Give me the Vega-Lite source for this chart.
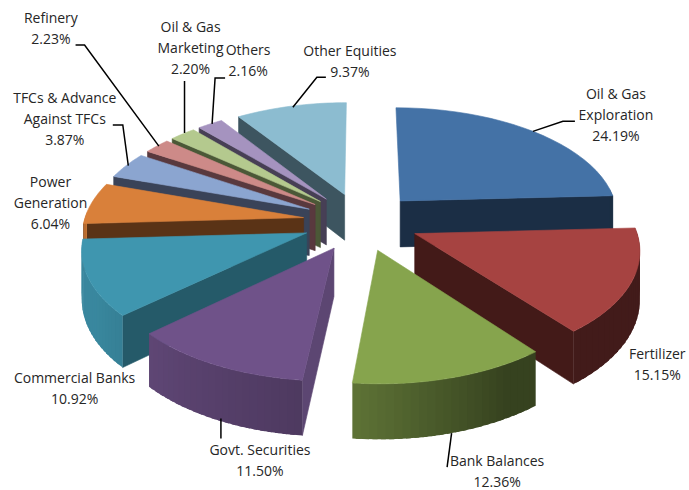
{
  "$schema": "https://vega.github.io/schema/vega-lite/v6.json",
  "width": 689,
  "height": 490,
  "padding": 0,
  "autosize": {"type": "none"},
  "background": "white",
  "config": {"view": {"stroke": null}},
  "data": {
    "values": [
      {"seq": 11, "slice": "Other Equities", "label": "Other Equities", "value": 9.37},
      {"seq": 10, "slice": "Others", "label": "Others", "value": 2.16},
      {"seq": 9, "slice": "Oil & Gas Marketing", "label": "Oil & Gas\nMarketing", "value": 2.20},
      {"seq": 8, "slice": "Refinery", "label": "Refinery", "value": 2.23},
      {"seq": 7, "slice": "TFCs & Advance Against TFCs", "label": "TFCs & Advance\nAgainst TFCs", "value": 3.87},
      {"seq": 6, "slice": "Power Generation", "label": "Power\nGeneration", "value": 6.04},
      {"seq": 1, "slice": "Oil & Gas Exploration", "label": "Oil & Gas\nExploration", "value": 24.19},
      {"seq": 2, "slice": "Fertilizer", "label": "Fertilizer", "value": 15.15},
      {"seq": 5, "slice": "Commercial Banks", "label": "Commercial Banks", "value": 10.92},
      {"seq": 3, "slice": "Bank Balances", "label": "Bank Balances", "value": 12.36},
      {"seq": 4, "slice": "Govt. Securities", "label": "Govt. Securities", "value": 11.50}
    ]
  },
  "transform": [
    {"joinaggregate": [{"op": "sum", "field": "value", "as": "total"}]},
    {"window": [{"op": "sum", "field": "value", "as": "cum"}], "sort": [{"field": "seq", "order": "ascending"}], "frame": [null, 0]},
    {"calculate": "2 * PI * (datum.cum - datum.value) / datum.total", "as": "a0"},
    {"calculate": "2 * PI * datum.cum / datum.total", "as": "a1"},
    {"calculate": "(datum.a0 + datum.a1) / 2", "as": "mid"},
    {"calculate": "0.265 * sin(datum.mid)", "as": "ex"},
    {"calculate": "-0.265 * cos(datum.mid)", "as": "ey"},
    {"calculate": "{'Oil & Gas Exploration':'#4472a6','Fertilizer':'#a64341','Bank Balances':'#86a44d','Govt. Securities':'#6f5289','Commercial Banks':'#3f96af','Power Generation':'#d9803a','TFCs & Advance Against TFCs':'#8ba5d0','Refinery':'#cd8a88','Oil & Gas Marketing':'#b4c98e','Others':'#a593bf','Other Equities':'#8cbcd0'}[datum.slice]", "as": "topColor"},
    {"calculate": "{'Oil & Gas Exploration':'#1b2e45','Fertilizer':'#431a18','Bank Balances':'#384419','Govt. Securities':'#5c4672','Commercial Banks':'#255a69','Power Generation':'#5a3316','TFCs & Advance Against TFCs':'#3a4358','Refinery':'#59393e','Oil & Gas Marketing':'#4b5837','Others':'#473f55','Other Equities':'#3d5560'}[datum.slice]", "as": "faceColor"}
  ],
  "layer": [
    {
      "description": "Cut faces of each exploded wedge, only those turned toward the viewer",
      "transform": [
        {"calculate": "[0, 1]", "as": "face"},
        {"flatten": ["face"]},
        {"filter": "datum.face == 0 ? sin(datum.a0) < -0.001 : sin(datum.a1) > 0.001"},
        {"calculate": "[0, 1, 2, 3]", "as": "corner"},
        {"flatten": ["corner"]},
        {"calculate": "datum.face == 0 ? datum.a0 : datum.a1", "as": "ang"},
        {"calculate": "(datum.corner == 1 || datum.corner == 2) ? 1 : 0", "as": "r"},
        {"calculate": "datum.corner >= 2 ? 1 : 0", "as": "h"},
        {"calculate": "datum.ex + datum.r * sin(datum.ang)", "as": "u"},
        {"calculate": "datum.ey - datum.r * cos(datum.ang)", "as": "v"},
        {"calculate": "1 / (1 - 0.123 * datum.v)", "as": "s"},
        {"calculate": "361 + 219.5 * datum.u * datum.s", "as": "px"},
        {"calculate": "221.5 + 109.4 * datum.v * datum.s + 47 * datum.h * datum.s", "as": "py"},
        {"calculate": "datum.slice + '|' + datum.face", "as": "key"}
      ],
      "mark": {"type": "line", "filled": true, "strokeWidth": 0.6, "interpolate": "linear-closed"},
      "encoding": {
        "x": {"field": "px", "type": "quantitative", "scale": {"domain": [0, 689], "nice": false, "zero": false}, "axis": null},
        "y": {"field": "py", "type": "quantitative", "scale": {"domain": [0, 490], "nice": false, "zero": false, "reverse": true}, "axis": null},
        "color": {"field": "faceColor", "type": "nominal", "scale": null, "legend": null},
        "stroke": {"field": "faceColor", "type": "nominal", "scale": null, "legend": null},
        "detail": {"field": "key"},
        "order": {"field": "corner", "type": "quantitative"}
      }
    },
    {
      "description": "Outer rim wall on the near half of the pie, shaded strip by strip; strips overlap to hide seams",
      "transform": [
        {"calculate": "[0,1,2,3,4,5,6,7,8,9,10,11,12,13,14,15,16,17,18,19,20,21,22,23]", "as": "seg"},
        {"flatten": ["seg"]},
        {"calculate": "(datum.a0 + (datum.seg + 0.5) / 24 * (datum.a1 - datum.a0)) * 180 / PI", "as": "deg"},
        {"filter": "datum.deg > 85 && datum.deg < 272"},
        {"calculate": "[0, 1, 2, 3]", "as": "corner"},
        {"flatten": ["corner"]},
        {"calculate": "datum.a0 + ((datum.corner == 1 || datum.corner == 2) ? min(datum.seg + 1.6, 24) : datum.seg) / 24 * (datum.a1 - datum.a0)", "as": "ang"},
        {"calculate": "datum.corner >= 2 ? 1 : 0", "as": "h"},
        {"calculate": "datum.ex + sin(datum.ang)", "as": "u"},
        {"calculate": "datum.ey - cos(datum.ang)", "as": "v"},
        {"calculate": "1 / (1 - 0.123 * datum.v)", "as": "s"},
        {"calculate": "361 + 219.5 * datum.u * datum.s", "as": "px"},
        {"calculate": "221.5 + 109.4 * datum.v * datum.s + 47 * datum.h * datum.s", "as": "py"},
        {"calculate": "datum.deg <= 150 ? 0.4 : (datum.deg <= 186 ? 0.4 + (datum.deg - 150) * 0.3 / 36 : min(0.9, 0.7 + (datum.deg - 186) * 0.15 / 41))", "as": "lum"},
        {"calculate": "'rgb(' + round(rgb(datum.topColor).r * datum.lum) + ',' + round(rgb(datum.topColor).g * datum.lum) + ',' + round(rgb(datum.topColor).b * datum.lum) + ')'", "as": "rimColor"},
        {"calculate": "datum.slice + '|' + datum.seg", "as": "key"}
      ],
      "mark": {"type": "line", "filled": true, "strokeWidth": 0.6, "interpolate": "linear-closed"},
      "encoding": {
        "x": {"field": "px", "type": "quantitative", "scale": {"domain": [0, 689], "nice": false, "zero": false}, "axis": null},
        "y": {"field": "py", "type": "quantitative", "scale": {"domain": [0, 490], "nice": false, "zero": false, "reverse": true}, "axis": null},
        "color": {"field": "rimColor", "type": "nominal", "scale": null, "legend": null},
        "detail": {"field": "key"},
        "order": {"field": "corner", "type": "quantitative"}
      }
    },
    {
      "description": "Top surface of each wedge, swept from its share of the total",
      "transform": [
        {"calculate": "[-1,0,1,2,3,4,5,6,7,8,9,10,11,12,13,14,15,16,17,18,19,20,21,22,23,24]", "as": "idx"},
        {"flatten": ["idx"]},
        {"calculate": "datum.a0 + max(datum.idx, 0) / 24 * (datum.a1 - datum.a0)", "as": "ang"},
        {"calculate": "datum.idx < 0 ? 0 : 1", "as": "r"},
        {"calculate": "datum.ex + datum.r * sin(datum.ang)", "as": "u"},
        {"calculate": "datum.ey - datum.r * cos(datum.ang)", "as": "v"},
        {"calculate": "1 / (1 - 0.123 * datum.v)", "as": "s"},
        {"calculate": "361 + 219.5 * datum.u * datum.s", "as": "px"},
        {"calculate": "221.5 + 109.4 * datum.v * datum.s", "as": "py"}
      ],
      "mark": {"type": "line", "filled": true, "strokeWidth": 0.6, "interpolate": "linear-closed"},
      "encoding": {
        "x": {"field": "px", "type": "quantitative", "scale": {"domain": [0, 689], "nice": false, "zero": false}, "axis": null},
        "y": {"field": "py", "type": "quantitative", "scale": {"domain": [0, 490], "nice": false, "zero": false, "reverse": true}, "axis": null},
        "color": {"field": "topColor", "type": "nominal", "scale": null, "legend": null},
        "stroke": {"field": "topColor", "type": "nominal", "scale": null, "legend": null},
        "detail": {"field": "slice"},
        "order": {"field": "idx", "type": "quantitative"}
      }
    },
    {
      "description": "Leader lines from the rim to the labels",
      "transform": [
        {"calculate": "{'Oil & Gas Exploration':[[0,0],[30,-10],[42,-10]],'Bank Balances':[[0,0],[-4.5,34],[-4.5,34]],'Govt. Securities':[[5.5,-1],[5.5,19],[5.5,19]],'TFCs & Advance Against TFCs':[[2,0],[-3.5,-40.6],[-13.5,-40.6]],'Refinery':[[2,0],[-72.3,-101],[-81.3,-101]],'Oil & Gas Marketing':[[2,-1],[2,-53],[2,-53]],'Others':[[2,0],[5,-46],[15,-46]],'Other Equities':[[2,1],[26,-29],[35,-29]]}[datum.slice]", "as": "leader"},
        {"filter": "isArray(datum.leader)"},
        {"calculate": "[0, 1, 2]", "as": "pt"},
        {"flatten": ["pt"]},
        {"calculate": "datum.ex + sin(datum.mid)", "as": "u"},
        {"calculate": "datum.ey - cos(datum.mid)", "as": "v"},
        {"calculate": "1 / (1 - 0.123 * datum.v)", "as": "s"},
        {"calculate": "datum.v > 0.9 ? 1 : 0", "as": "h"},
        {"calculate": "361 + 219.5 * datum.u * datum.s + datum.leader[datum.pt][0]", "as": "px"},
        {"calculate": "221.5 + 109.4 * datum.v * datum.s + 47 * datum.h * datum.s + datum.leader[datum.pt][1]", "as": "py"}
      ],
      "mark": {"type": "line", "color": "#000000", "strokeWidth": 1.5},
      "encoding": {
        "x": {"field": "px", "type": "quantitative", "scale": {"domain": [0, 689], "nice": false, "zero": false}, "axis": null},
        "y": {"field": "py", "type": "quantitative", "scale": {"domain": [0, 490], "nice": false, "zero": false, "reverse": true}, "axis": null},
        "detail": {"field": "slice"},
        "order": {"field": "pt", "type": "quantitative"}
      }
    },
    {
      "description": "Category and share labels, nudged off the rim",
      "transform": [
        {"calculate": "{'Oil & Gas Exploration':[83,-36],'Fertilizer':[26,72.5],'Bank Balances':[45.5,28.5],'Govt. Securities':[44.5,31.5],'Commercial Banks':[-14,100.5],'Power Generation':[-41,-20],'TFCs & Advance Against TFCs':[-61.5,-66.6],'Refinery':[-106,-127.1],'Oil & Gas Marketing':[8,-106],'Others':[38,-72.5],'Other Equities':[59,-54.5]}[datum.slice]", "as": "nudge"},
        {"calculate": "datum.ex + sin(datum.mid)", "as": "u"},
        {"calculate": "datum.ey - cos(datum.mid)", "as": "v"},
        {"calculate": "1 / (1 - 0.123 * datum.v)", "as": "s"},
        {"calculate": "datum.v > 0.9 ? 1 : 0", "as": "h"},
        {"calculate": "361 + 219.5 * datum.u * datum.s + datum.nudge[0]", "as": "px"},
        {"calculate": "221.5 + 109.4 * datum.v * datum.s + 47 * datum.h * datum.s + datum.nudge[1]", "as": "py"},
        {"calculate": "datum.label + '\\n' + format(datum.value, '.2f') + '%'", "as": "text"}
      ],
      "mark": {"type": "text", "font": "Open Sans", "fontSize": 14, "color": "#262626", "lineBreak": "\n", "lineHeight": 21, "align": "center", "baseline": "middle"},
      "encoding": {
        "x": {"field": "px", "type": "quantitative", "scale": {"domain": [0, 689], "nice": false, "zero": false}, "axis": null},
        "y": {"field": "py", "type": "quantitative", "scale": {"domain": [0, 490], "nice": false, "zero": false, "reverse": true}, "axis": null},
        "text": {"field": "text", "type": "nominal"}
      }
    }
  ]
}
